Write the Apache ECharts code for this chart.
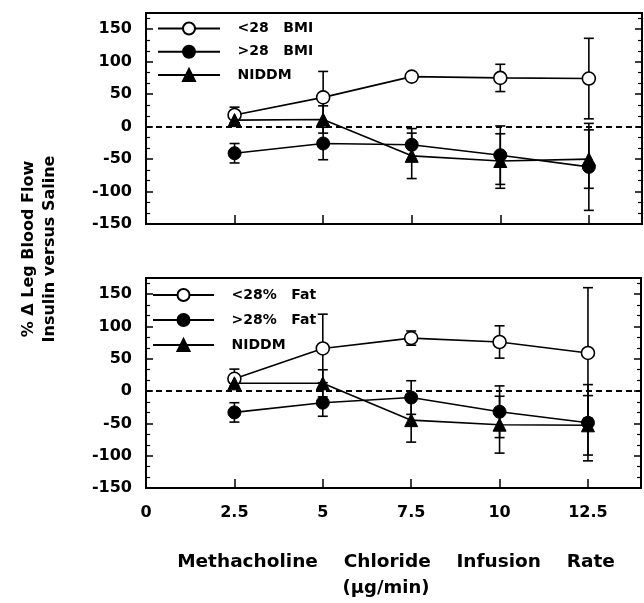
<!DOCTYPE html>
<html>
<head>
<meta charset="utf-8">
<script src="https://cdn.jsdelivr.net/npm/echarts@6/dist/echarts.min.js"></script>
<style>
html,body{margin:0;padding:0;background:#fff;}
#chart{width:644px;height:603px;}
</style>
</head>
<body>
<div id="chart"></div>
<script>
// ---- data ----
var doses = [2.5, 5, 7.5, 10, 12.5];
var xTickLabels = ['0', '2.5', '5', '7.5', '10', '12.5'];
var yTickLabels = ['-150', '-100', '-50', '0', '50', '100', '150'];

// top panel (BMI)
var bmiLowName = '<28   BMI';
var bmiHighName = '>28   BMI';
var bmiLow = [18, 45, 77, 75, 74];
var bmiLowSem = [12, 40, 3, 21, 62];
var bmiHigh = [-41, -26, -28, -44, -62];
var bmiHighSem = [15, 25, 25, 45, 67];
var niddmTop = [10, 11, -45, -53, -50];
var niddmTopSem = [4, 21, 35, 42, 45];

// bottom panel (% fat)
var fatLowName = '<28%   Fat';
var fatHighName = '>28%   Fat';
var fatLow = [19, 66, 82, 76, 59];
var fatLowSem = [15, 53, 11, 25, 101];
var fatHigh = [-33, -18, -10, -32, -49];
var fatHighSem = [15, 21, 26, 40, 59];
var niddmBot = [12, 12, -45, -52, -53];
var niddmBotSem = [4, 21, 34, 44, 46];

// ---- helpers ----
var FONT = '"DejaVu Sans", "Liberation Sans", sans-serif';
function pts(v) { return doses.map(function (x, i) { return [x, v[i]]; }); }
function errs(v, e) { return doses.map(function (x, i) { return [x, v[i] - e[i], v[i] + e[i]]; }); }

function renderErr(params, api) {
  var x = api.value(0), lo = api.value(1), hi = api.value(2);
  var t = api.coord([x, hi]), b = api.coord([x, lo]);
  var w = 5;
  var st = { stroke: '#000', lineWidth: 1.6 };
  return {
    type: 'group',
    children: [
      { type: 'line', shape: { x1: t[0], y1: t[1], x2: b[0], y2: b[1] }, style: st },
      { type: 'line', shape: { x1: t[0] - w, y1: t[1], x2: t[0] + w, y2: t[1] }, style: st },
      { type: 'line', shape: { x1: b[0] - w, y1: b[1], x2: b[0] + w, y2: b[1] }, style: st }
    ]
  };
}

function xAxisOf(gi, showLabel) {
  return {
    type: 'value', gridIndex: gi, min: 0, max: 14, interval: 2.5,
    axisLine: { show: true, onZero: false, lineStyle: { color: '#000', width: 2 } },
    axisTick: { show: true, inside: true, length: 9, lineStyle: { color: '#000', width: 1.5 } },
    splitLine: { show: false },
    axisLabel: {
      show: showLabel, margin: 17, color: '#000', fontFamily: FONT, fontWeight: 'bold', fontSize: 16,
      formatter: function (v) {
        var s = String(v);
        return xTickLabels.indexOf(s) >= 0 ? s : '';
      }
    }
  };
}
function yAxisOf(gi, pos, showLabel) {
  return {
    type: 'value', gridIndex: gi, position: pos, min: -150, max: 175, interval: 50,
    axisLine: { show: true, onZero: false, lineStyle: { color: '#000', width: 2 } },
    axisTick: { show: true, inside: true, length: 7, lineStyle: { color: '#000', width: 1.5 } },
    minorTick: { show: true, splitNumber: 3, length: 4, lineStyle: { color: '#000', width: 1.2 } },
    splitLine: { show: false },
    minorSplitLine: { show: false },
    axisLabel: {
      show: showLabel, margin: 14, color: '#000', fontFamily: FONT, fontWeight: 'bold', fontSize: 16,
      formatter: function (v) {
        var s = String(v);
        return yTickLabels.indexOf(s) >= 0 ? s : '';
      }
    }
  };
}

var zeroLine = {
  silent: true, symbol: 'none', label: { show: false },
  lineStyle: { type: [6, 4], color: '#000', width: 1.8 },
  emphasis: { disabled: true },
  data: [{ yAxis: 0 }]
};

function lineSeries(name, gi, data, kind, withZero) {
  var s = {
    type: 'line', name: name, xAxisIndex: gi, yAxisIndex: gi * 2,
    data: pts(data), z: 3,
    symbol: kind === 'tri' ? 'triangle' : 'circle',
    symbolSize: 13,
    lineStyle: { color: '#000', width: 1.6 },
    itemStyle: kind === 'open'
      ? { color: '#fff', borderColor: '#000', borderWidth: 1.6 }
      : { color: '#000', borderColor: '#000', borderWidth: 1 },
    emphasis: { disabled: true },
    animation: false
  };
  if (withZero) s.markLine = zeroLine;
  return s;
}
function errSeries(gi, v, e) {
  return {
    type: 'custom', xAxisIndex: gi, yAxisIndex: gi * 2, z: 2,
    data: errs(v, e), renderItem: renderErr, silent: true, animation: false
  };
}

var legendText = { fontFamily: FONT, fontWeight: 'bold', fontSize: 14, color: '#000', padding: [0, 0, 0, 12.5] };

var option = {
  backgroundColor: '#fff',
  animation: false,
  grid: [
    { left: 146, right: 2, top: 13, height: 211, show: true, borderColor: '#000', borderWidth: 2 },
    { left: 146, right: 2, top: 278, height: 210, show: true, borderColor: '#000', borderWidth: 2 }
  ],
  xAxis: [xAxisOf(0, false), xAxisOf(1, true)],
  yAxis: [yAxisOf(0, 'left', true), yAxisOf(0, 'right', false), yAxisOf(1, 'left', true), yAxisOf(1, 'right', false)],
  legend: [
    {
      data: [bmiLowName, bmiHighName, 'NIDDM'], orient: 'vertical', left: 157, top: 21.5, padding: 0,
      itemWidth: 62, itemHeight: 15, itemGap: 9.2, selectedMode: false, textStyle: legendText
    },
    {
      data: [fatLowName, fatHighName, 'NIDDM'], orient: 'vertical', left: 152, top: 288, padding: 0,
      itemWidth: 61, itemHeight: 15, itemGap: 11, selectedMode: false, textStyle: legendText
    }
  ],
  graphic: [
    {
      type: 'text', x: 39, y: 249, rotation: Math.PI / 2,
      style: {
        text: '% \u0394 Leg Blood Flow\nInsulin versus Saline',
        fontFamily: FONT, fontWeight: 'bold', fontSize: 16, lineHeight: 21,
        fill: '#000', align: 'center', verticalAlign: 'middle'
      }
    },
    {
      type: 'text', x: 396, y: 562,
      style: {
        text: 'Methacholine    Chloride    Infusion    Rate',
        fontFamily: FONT, fontWeight: 'bold', fontSize: 18.5,
        fill: '#000', align: 'center', verticalAlign: 'middle'
      }
    },
    {
      type: 'text', x: 386, y: 588,
      style: {
        text: '(\u03bcg/min)',
        fontFamily: FONT, fontWeight: 'bold', fontSize: 18,
        fill: '#000', align: 'center', verticalAlign: 'middle'
      }
    }
  ],
  series: [
    errSeries(0, bmiLow, bmiLowSem),
    errSeries(0, bmiHigh, bmiHighSem),
    errSeries(0, niddmTop, niddmTopSem),
    lineSeries(bmiLowName, 0, bmiLow, 'open', true),
    lineSeries(bmiHighName, 0, bmiHigh, 'filled', false),
    lineSeries('NIDDM', 0, niddmTop, 'tri', false),
    errSeries(1, fatLow, fatLowSem),
    errSeries(1, fatHigh, fatHighSem),
    errSeries(1, niddmBot, niddmBotSem),
    lineSeries(fatLowName, 1, fatLow, 'open', true),
    lineSeries(fatHighName, 1, fatHigh, 'filled', false),
    lineSeries('NIDDM', 1, niddmBot, 'tri', false)
  ]
};

var chart = echarts.init(document.getElementById('chart'));
chart.setOption(option);
</script>
</body>
</html>
